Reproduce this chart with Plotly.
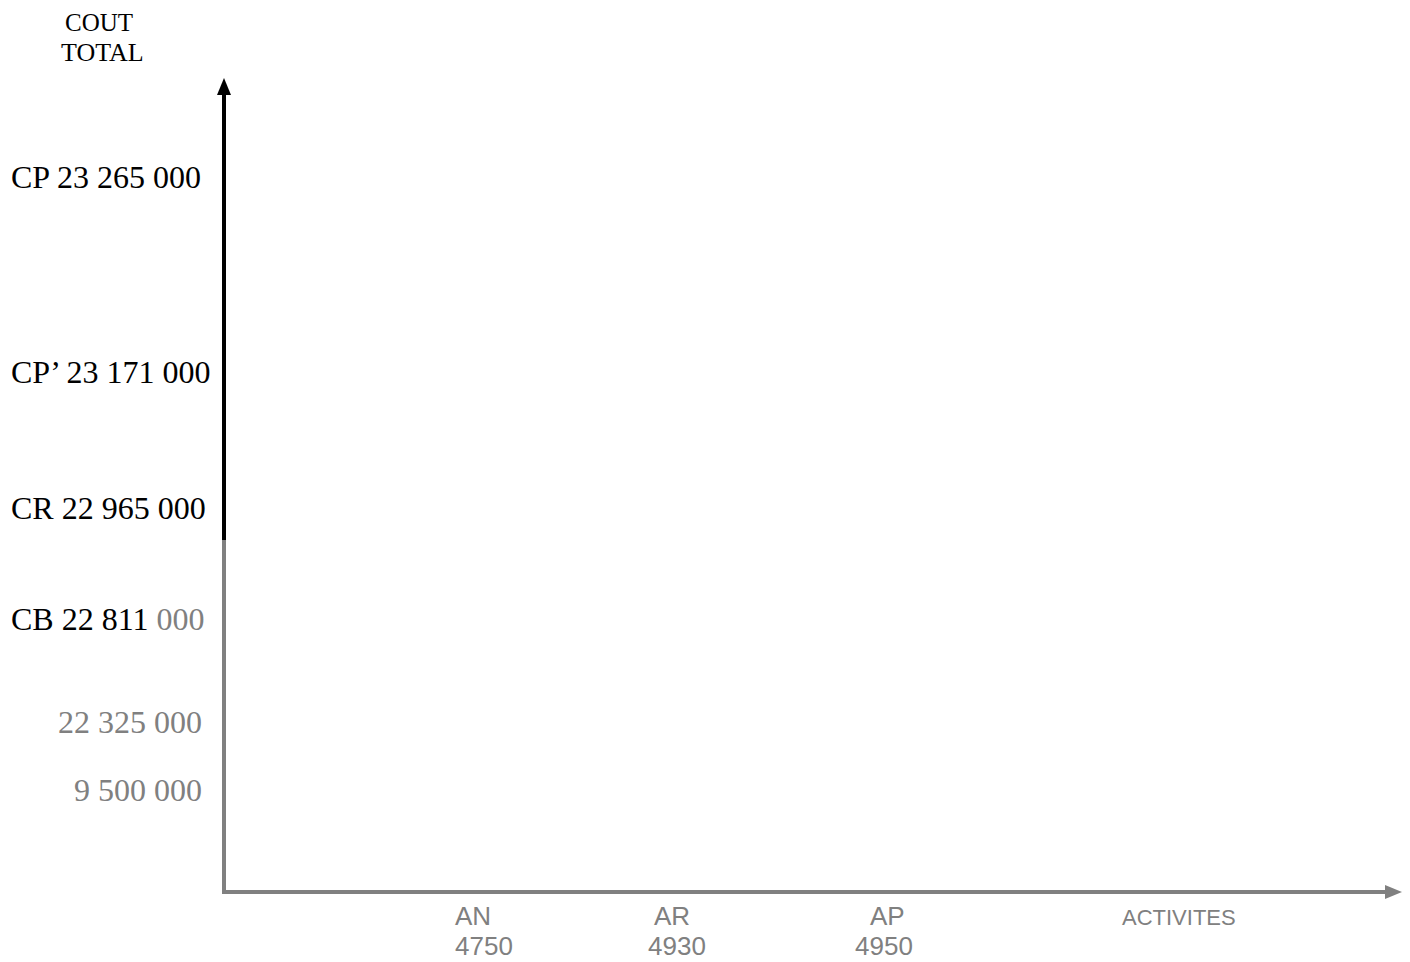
import plotly.graph_objects as go

# ---- data (schematic cost / activity diagram) ----
y_codes = ["CP", "CP\u2019", "CR", "CB", "", ""]
y_amounts = ["23 265 000", "23 171 000", "22 965 000", "22 811 000", "22 325 000", "9 500 000"]
x_codes = ["AN", "AR", "AP"]
x_activities = ["4750", "4930", "4950"]
y_title = ["COUT", "TOTAL"]
x_title = "ACTIVITES"

# ---- layout positions (page pixels of the schematic) ----
y_label_py = [177, 372, 508, 619, 722, 790]
x_code_px = [473, 672, 887]
x_act_px = [484, 677, 884]
AX_X, AX_Y = 224, 892          # origin of the axes
Y_TIP, X_TIP = 78, 1402        # arrow tips
Y_SPLIT = 540                  # where the y axis turns grey

W, H = 1410, 962
OFF = 8                        # page body margin
L, R, T, B = 216, 10, 72, 62
PW, PH = W - L - R, H - T - B


def px(x):
    return (x - OFF - L) / PW


def py(y):
    return 1 - (y - OFF - T) / PH


BLACK = "#000000"
GREY = "#808080"
SERIF = "Liberation Serif, Times New Roman, serif"
SANS = "Liberation Sans, Arial, sans-serif"

fig = go.Figure()
fig.add_trace(go.Scatter(x=[None], y=[None], showlegend=False, hoverinfo="skip"))

shapes = [
    dict(type="line", xref="paper", yref="paper", x0=px(AX_X), x1=px(AX_X),
         y0=py(Y_SPLIT), y1=py(Y_TIP + 14), line=dict(color=BLACK, width=4)),
    dict(type="line", xref="paper", yref="paper", x0=px(AX_X), x1=px(AX_X),
         y0=py(AX_Y + 2), y1=py(Y_SPLIT), line=dict(color=GREY, width=4)),
    dict(type="path", xref="paper", yref="paper",
         path=f"M {px(AX_X-7)} {py(Y_TIP+17)} L {px(AX_X+7)} {py(Y_TIP+17)} L {px(AX_X)} {py(Y_TIP)} Z",
         fillcolor=BLACK, line=dict(color=BLACK, width=0)),
    dict(type="line", xref="paper", yref="paper", x0=px(AX_X - 2), x1=px(X_TIP - 14),
         y0=py(AX_Y), y1=py(AX_Y), line=dict(color=GREY, width=4)),
    dict(type="path", xref="paper", yref="paper",
         path=f"M {px(X_TIP-17)} {py(AX_Y-7)} L {px(X_TIP-17)} {py(AX_Y+7)} L {px(X_TIP)} {py(AX_Y)} Z",
         fillcolor=GREY, line=dict(color=GREY, width=0)),
]

annotations = []


def add_text(text, x, y, font, xanchor="center"):
    annotations.append(dict(x=px(x), y=py(y), xref="paper", yref="paper", text=text,
                            showarrow=False, xanchor=xanchor, yanchor="middle",
                            borderpad=0, font=font))


for code, amt, yy in zip(y_codes, y_amounts, y_label_py):
    if code == "CB":
        head, tail = amt.rsplit(" ", 1)
        add_text(f"{code} {head}<span style='color:{GREY}'> {tail}</span>", 10, yy,
                 dict(family=SERIF, size=32, color=BLACK), "left")
    elif code:
        add_text(f"{code} {amt}", 10, yy, dict(family=SERIF, size=32, color=BLACK), "left")
    else:
        add_text(amt, 203, yy, dict(family=SERIF, size=32, color=GREY), "right")

for code, act, xc, xa in zip(x_codes, x_activities, x_code_px, x_act_px):
    add_text(code, xc, 916, dict(family=SANS, size=26, color=GREY))
    add_text(act, xa, 946, dict(family=SANS, size=26, color=GREY))

add_text(x_title, 1179, 917, dict(family=SANS, size=22, color=GREY))
add_text(y_title[0], 99, 23, dict(family=SERIF, size=25, color=BLACK))
add_text(y_title[1], 102, 52, dict(family=SERIF, size=26, color=BLACK))

fig.update_layout(
    width=W, height=H,
    margin=dict(l=L, r=R, t=T, b=B, pad=0),
    paper_bgcolor="white", plot_bgcolor="white",
    xaxis=dict(range=[0, 1], visible=False, fixedrange=True),
    yaxis=dict(range=[0, 1], visible=False, fixedrange=True),
    shapes=shapes, annotations=annotations, showlegend=False,
)

fig.write_html("out.html")
